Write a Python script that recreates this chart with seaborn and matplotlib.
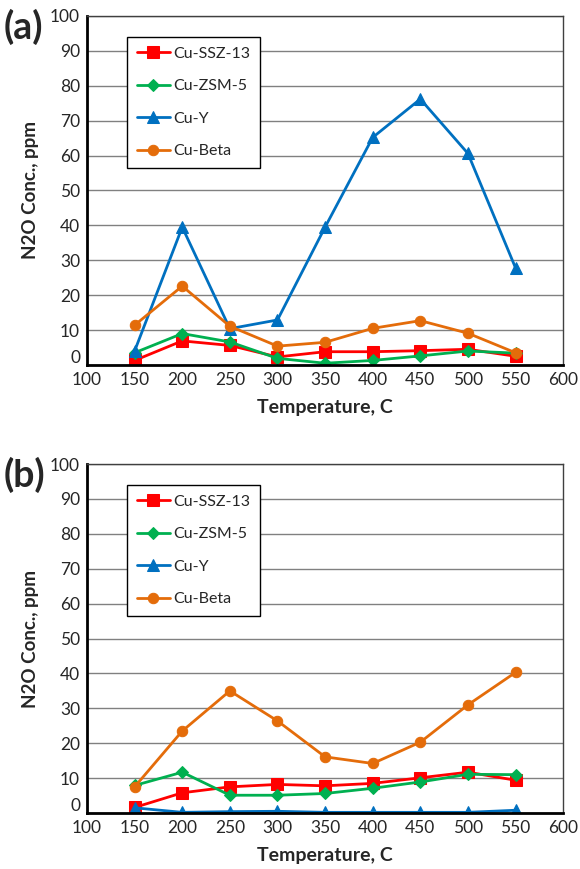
import matplotlib
matplotlib.use("Agg")
import matplotlib.pyplot as plt
import matplotlib.transforms as mtransforms
import seaborn as sns
import pandas as pd

temps = [150, 200, 250, 300, 350, 400, 450, 500, 550]
series_names = ["Cu-SSZ-13", "Cu-ZSM-5", "Cu-Y", "Cu-Beta"]

a_ssz13 = [1.3, 6.9, 5.6, 2.3, 3.8, 3.8, 4.1, 4.5, 2.5]
a_zsm5 = [3.5, 9.0, 6.6, 1.9, 0.5, 1.3, 2.6, 4.0, 3.4]
a_cuy = [4.0, 39.5, 10.4, 12.9, 39.5, 65.2, 76.2, 60.6, 27.8]
a_beta = [11.4, 22.6, 11.1, 5.4, 6.5, 10.5, 12.7, 9.1, 3.5]

b_ssz13 = [1.6, 5.8, 7.5, 8.2, 7.8, 8.5, 10.1, 11.7, 9.4]
b_zsm5 = [7.9, 11.7, 5.1, 5.1, 5.6, 7.1, 8.9, 11.1, 11.0]
b_cuy = [1.5, 0.2, 0.4, 0.5, 0.2, 0.2, 0.2, 0.2, 0.8]
b_beta = [7.5, 23.5, 35.0, 26.4, 16.1, 14.2, 20.3, 31.0, 40.3]

colors = {"Cu-SSZ-13": "#ff0000", "Cu-ZSM-5": "#00b050", "Cu-Y": "#0070c0", "Cu-Beta": "#e46c0a"}
markers = {"Cu-SSZ-13": "s", "Cu-ZSM-5": "D", "Cu-Y": "^", "Cu-Beta": "o"}
msizes = {"Cu-SSZ-13": 8, "Cu-ZSM-5": 6.5, "Cu-Y": 8.5, "Cu-Beta": 7.5}

sns.set_style("white")
plt.rcParams['font.family'] = ['Lato', 'DejaVu Sans']

fig = plt.figure(figsize=(5.8, 8.69), dpi=100)
ax_a = fig.add_axes([0.15, 0.58, 0.821, 0.4016])
ax_b = fig.add_axes([0.15, 0.0644, 0.821, 0.4016])

def draw(ax, vals, tag):
    for name, v in zip(series_names, vals):
        df = pd.DataFrame({"T": temps, "C": v})
        sns.lineplot(data=df, x="T", y="C", ax=ax, color=colors[name], marker=markers[name],
                     markersize=msizes[name], markeredgecolor=colors[name], linewidth=2.0,
                     label=name)
    ax.set_xlim(100, 600)
    ax.set_ylim(0, 100)
    ax.set_xticks(range(100, 601, 50))
    ax.set_yticks(range(0, 101, 10))
    ax.yaxis.grid(True, color="#808080", linewidth=1.0)
    ax.xaxis.grid(False)
    ax.set_axisbelow(True)
    ax.tick_params(axis="both", length=0, labelsize=12.5)
    ax.tick_params(axis="x", pad=5)
    ax.tick_params(axis="y", pad=5)
    for s in ["left", "bottom"]:
        ax.spines[s].set_color("black")
        ax.spines[s].set_linewidth(2.0)
    for s in ["top", "right"]:
        ax.spines[s].set_color("#404040")
        ax.spines[s].set_linewidth(1.0)
    ax.set_xlabel("Temperature, C", fontsize=14, fontweight="bold", labelpad=8)
    ax.set_ylabel("N2O Conc., ppm", fontsize=13.5, fontweight="bold", labelpad=8)
    leg = ax.legend(loc="upper left", bbox_to_anchor=(0.084, 0.94), borderaxespad=0,
                    frameon=True, fancybox=False,
                    edgecolor="black", fontsize=11.5, labelspacing=1.15, handlelength=2.1,
                    handletextpad=0.2, borderpad=0.6, framealpha=1)
    leg.get_frame().set_linewidth(1.0)
    # raise the "0" y tick label slightly, as in the reference
    fig.canvas.draw()
    lbl = ax.get_yticklabels()[0]
    lbl.set_transform(lbl.get_transform() + mtransforms.ScaledTranslation(0, 6 / 72, fig.dpi_scale_trans))
    fig.text(0.006, ax.get_position().y1 + 0.008, tag, fontsize=27, fontweight="bold", va="top", ha="left")

draw(ax_a, [a_ssz13, a_zsm5, a_cuy, a_beta], "(a)")
draw(ax_b, [b_ssz13, b_zsm5, b_cuy, b_beta], "(b)")

fig.savefig("out.png", dpi=100)
